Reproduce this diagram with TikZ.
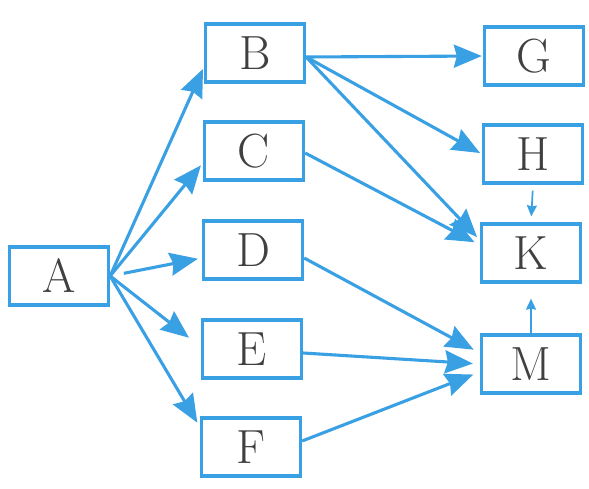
\documentclass[tikz,border=0pt]{standalone}
\usepackage{fontspec}
\usetikzlibrary{arrows.meta}

\definecolor{diablue}{RGB}{58,160,228}

\tikzstyle{box} = [draw=diablue, line width=3.3pt, minimum width=99pt, minimum height=58pt, inner sep=0pt, font=\fontsize{48}{48}\selectfont, text=black!75]
\tikzstyle{link} = [draw=diablue, line width=3.1pt, -{Stealth[length=28pt,width=23pt,inset=3pt]}]
\tikzstyle{small link} = [draw=diablue, line width=1.7pt, -{Stealth[length=11pt,width=10pt,inset=1pt]}]

\begin{document}
\begin{tikzpicture}[x=1pt,y=-1pt]
\useasboundingbox (0,0) rectangle (589,489);

\node[box] (A) at (59,276) {A};
\node[box] (B) at (255,53) {B};
\node[box] (C) at (254,151) {C};
\node[box] (D) at (253,250) {D};
\node[box] (E) at (252,349) {E};
\node[box] (F) at (251,447) {F};
\node[box] (G) at (534,56) {G};
\node[box] (H) at (533,154) {H};
\node[box] (K) at (531,253) {K};
\node[box] (M) at (531,364) {M};

% from A
\draw[link, shorten >=2pt] (A.east) -- ([yshift=-14pt]B.west);
\draw[link, shorten >=3pt] (A.east) -- ([yshift=-12pt]C.west);
\draw[link, shorten <=14pt, shorten >=4pt] (A.east) -- ([yshift=-8pt]D.west);
\draw[link, shorten >=15pt] (A.east) -- ([yshift=2pt]E.west);
\draw[link, shorten >=5pt] (A.east) -- ([yshift=20pt]F.west);

% from B and C
\draw[link, shorten >=1pt] ([yshift=-4pt]B.east) -- (G.west);
\draw[link, shorten >=2pt] ([yshift=-4pt]B.east) -- (H.west);
\draw[link, shorten >=4pt] ([yshift=-4pt]B.east) -- ([yshift=13pt]K.west);
\draw[link, shorten >=6pt] ([yshift=-2pt]C.east) -- ([yshift=8pt]K.west);

% into M
\draw[link, shorten >=7pt] ([yshift=-8pt]D.east) -- ([yshift=11pt]M.west);
\draw[link, shorten >=7pt] ([yshift=-4pt]E.east) -- (M.west);
\draw[link, shorten >=7pt] ([yshift=6pt]F.east) -- ([yshift=-8pt]M.west);

% into K
\draw[small link, shorten <=6pt, shorten >=6pt] (H.south) -- (K.north);
\draw[small link, shorten >=15pt] (M.north) -- (K.south);
\end{tikzpicture}
\end{document}
